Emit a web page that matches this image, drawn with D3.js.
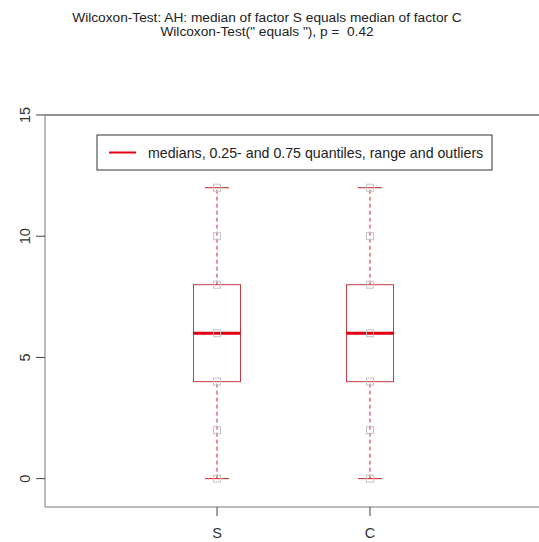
<!DOCTYPE html>
<html>
<head>
<meta charset="utf-8">
<script src="https://cdn.jsdelivr.net/npm/d3@7"></script>
<style>
body{margin:0;background:#fff;}
text{font-family:"Liberation Sans",Arial,sans-serif;white-space:pre;}
</style>
</head>
<body>
<svg width="539" height="542"></svg>
<script>
// data
var factors = ['S','C'];
var pointsS = [0,2,4,6,8,10,12];
var pointsC = [0,2,4,6,8,10,12];
var mins = [0,0];
var q1s = [4,4];
var medians = [6,6];
var q3s = [8,8];
var maxs = [12,12];
var yTicks = [0,5,10,15];
var titleLines = ['Wilcoxon-Test: AH: median of factor S equals median of factor C',
                  'Wilcoxon-Test(" equals "), p =  0.42'];
var legendText = 'medians, 0.25- and 0.75 quantiles, range and outliers';

var svg = d3.select('svg');
var margin = {left:45,top:115,right:-90,bottom:35};
var width = +svg.attr('width'), height = +svg.attr('height');
var innerwidth = width - margin.left - margin.right;
var innerheight = height - margin.top - margin.bottom;

var yscale = d3.scaleLinear().domain([-1.17,15]).range([innerheight,0]);
var xscale = d3.scalePoint().domain(factors).range([172,325]);

var g = svg.append('g').attr('transform',`translate(${margin.left},${margin.top})`);

// title
svg.selectAll('text.title').data(titleLines).enter().append('text')
  .attr('class','title')
  .attr('x',267).attr('y',(d,i)=>22+i*14)
  .attr('text-anchor','middle')
  .style('font-size','13.7px').style('fill','#222')
  .text(d=>d);

// frame
g.append('line').attr('x1',0).attr('x2',innerwidth).attr('y1',0).attr('y2',0)
  .attr('stroke','#222');
g.append('line').attr('x1',0).attr('x2',innerwidth).attr('y1',innerheight).attr('y2',innerheight)
  .attr('stroke','#777');
g.append('line').attr('x1',0).attr('x2',0).attr('y1',0).attr('y2',innerheight)
  .attr('stroke','#777');

// y axis
g.selectAll('line.yt').data(yTicks).enter().append('line')
  .attr('x1',-9).attr('x2',0)
  .attr('y1',d=>yscale(d)).attr('y2',d=>yscale(d))
  .attr('stroke','#444');
g.selectAll('text.yl').data(yTicks).enter().append('text')
  .attr('transform',d=>`translate(-20,${yscale(d)}) rotate(-90)`)
  .attr('text-anchor','middle').attr('dy','0.35em')
  .style('font-size','14.5px').style('fill','#333')
  .text(d=>d);

// x axis
g.selectAll('line.xt').data(factors).enter().append('line')
  .attr('x1',d=>xscale(d)).attr('x2',d=>xscale(d))
  .attr('y1',innerheight).attr('y2',innerheight+9)
  .attr('stroke','#444');
g.selectAll('text.xl').data(factors).enter().append('text')
  .attr('x',d=>xscale(d)).attr('y',innerheight+31)
  .attr('text-anchor','middle')
  .style('font-size','14.5px').style('fill','#333')
  .text(d=>d);

// boxplots
var points = [pointsS,pointsC];
var boxW = 47, capW = 24;
factors.forEach(function(f,i){
  var cx = xscale(f);
  var b = g.append('g');
  // whiskers
  [[mins[i],q1s[i]],[q3s[i],maxs[i]]].forEach(function(w){
    b.append('line').attr('x1',cx).attr('x2',cx)
      .attr('y1',yscale(w[0])).attr('y2',yscale(w[1]))
      .attr('stroke','#c8202a').attr('stroke-dasharray','4,3');
  });
  [mins[i],maxs[i]].forEach(function(c){
    b.append('line').attr('x1',cx-capW/2).attr('x2',cx+capW/2)
      .attr('y1',yscale(c)).attr('y2',yscale(c))
      .attr('stroke','#c8202a');
  });
  b.append('rect').attr('x',cx-boxW/2).attr('y',yscale(q3s[i]))
    .attr('width',boxW).attr('height',yscale(q1s[i])-yscale(q3s[i]))
    .attr('fill','none').attr('stroke','#c83a40');
  b.append('line').attr('x1',cx-boxW/2).attr('x2',cx+boxW/2)
    .attr('y1',yscale(medians[i])).attr('y2',yscale(medians[i]))
    .attr('stroke','#e00010').attr('stroke-width',3);
  // points
  b.selectAll('rect.pt').data(points[i]).enter().append('rect')
    .attr('x',cx-3.5).attr('y',d=>yscale(d)-3.5)
    .attr('width',7).attr('height',7)
    .attr('fill','none').attr('stroke','#c4c4c4');
});

// legend
var lg = svg.append('g');
lg.append('rect').attr('x',97).attr('y',135).attr('width',395).attr('height',35)
  .attr('fill','#fff').attr('stroke','#333');
lg.append('line').attr('x1',109).attr('x2',136).attr('y1',152.5).attr('y2',152.5)
  .attr('stroke','#e00010').attr('stroke-width',2);
lg.append('text').attr('x',148).attr('y',157.5)
  .style('font-size','14.2px').style('fill','#222')
  .text(legendText);
</script>
</body>
</html>
